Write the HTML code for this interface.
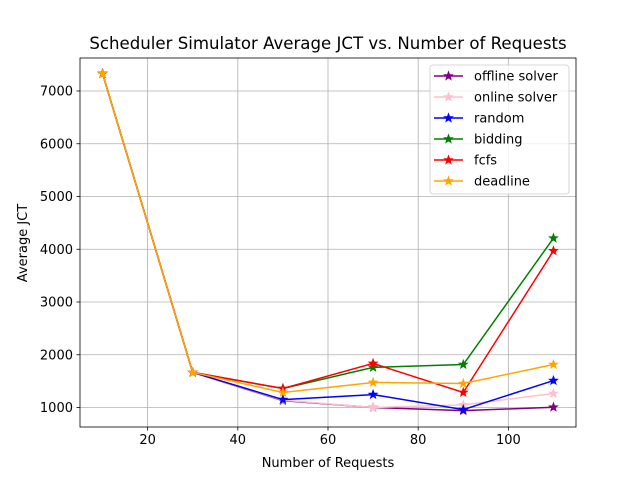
<!DOCTYPE html>
<html><head><meta charset="utf-8"><style>
html,body{margin:0;padding:0;background:#fff;}
svg{display:block;font-family:"DejaVu Sans","Liberation Sans",sans-serif;}
</style></head><body>
<svg id="chart" width="640" height="480"></svg>
<script>
const xValues = [10, 30, 50, 70, 90, 110];
const seriesNames = ["offline solver","online solver","random","bidding","fcfs","deadline"];
const seriesColors = ["purple","pink","blue","green","red","orange"];
const offlineSolver = [7330, 1665, 1130, 1000, 940, 1005];
const onlineSolver = [7330, 1665, 1140, 1000, 1050, 1265];
const randomSched = [7330, 1665, 1150, 1245, 960, 1510];
const bidding = [7330, 1665, 1360, 1760, 1815, 4210];
const fcfs = [7330, 1665, 1360, 1835, 1285, 3970];
const deadline = [7330, 1665, 1285, 1475, 1455, 1815];
const xTicks = [20, 40, 60, 80, 100];
const yTicks = [1000, 2000, 3000, 4000, 5000, 6000, 7000];

const allSeries = [offlineSolver, onlineSolver, randomSched, bidding, fcfs, deadline];
const L=80, R=576, T=58, B=427;
const xMin=5, xMax=115, yRef1=1000, yPx1=407.5, pxPer=0.05275;
function sx(v){ return L + (v - xMin) / (xMax - xMin) * (R - L); }
function sy(v){ return yPx1 - (v - yRef1) * pxPer; }
const NS="http://www.w3.org/2000/svg";
const svg=document.getElementById('chart');
function mk(tag, attrs, parent){ const e=document.createElementNS(NS,tag); for(const k in attrs) e.setAttribute(k, attrs[k]); (parent||svg).appendChild(e); return e; }
function star(cx, cy, r){
  let p=[]; for(let i=0;i<10;i++){ const a=-Math.PI/2+i*Math.PI/5; const rr=i%2?r*0.42:r; p.push((cx+rr*Math.cos(a)).toFixed(2)+","+(cy+rr*Math.sin(a)).toFixed(2)); } return p.join(" ");
}
xTicks.forEach(t=>{
  const g=mk('line',{x1:sx(t),x2:sx(t),y1:T,y2:B,stroke:'#b0b0b0','stroke-width':0.8});
   
  const tk=mk('line',{x1:sx(t),x2:sx(t),y1:B,y2:B+3.5,stroke:'#000','stroke-width':0.8});
   
  const tx=mk('text',{x:sx(t),y:B+17,'font-size':13,'text-anchor':'middle'}); tx.textContent=t;
   
});
yTicks.forEach(t=>{
  const g=mk('line',{x1:L,x2:R,y1:sy(t),y2:sy(t),stroke:'#b0b0b0','stroke-width':0.8});
   
  const tk=mk('line',{x1:L-3.5,x2:L,y1:sy(t),y2:sy(t),stroke:'#000','stroke-width':0.8});
   
  const tx=mk('text',{x:L-7,y:sy(t)+4.5,'font-size':13,'text-anchor':'end'}); tx.textContent=t;
   
});
allSeries.forEach((s,i)=>{
  const grp=mk('g',{});
   
  const pts=s.map((v,j)=>sx(xValues[j])+","+sy(v)).join(" ");
  mk('polyline',{points:pts,fill:'none',stroke:seriesColors[i],'stroke-width':1.5},grp);
  s.forEach((v,j)=>{
    const m=mk('polygon',{points:star(sx(xValues[j]),sy(v),4.5),fill:seriesColors[i],stroke:seriesColors[i],'stroke-width':0.8},grp);
     
  });
});
const fr=mk('rect',{x:L,y:T,width:R-L,height:B-T,fill:'none',stroke:'#000','stroke-width':0.8});
 
const ti=mk('text',{x:(L+R)/2,y:49,'font-size':16.6,'text-anchor':'middle'}); ti.textContent='Scheduler Simulator Average JCT vs. Number of Requests';
 
const xl=mk('text',{x:(L+R)/2,y:467,'font-size':13,'text-anchor':'middle'}); xl.textContent='Number of Requests';
 
const yl=mk('text',{x:0,y:0,'font-size':13,'text-anchor':'middle',transform:'translate(27,243) rotate(-90)'}); yl.textContent='Average JCT';
 
const lg=mk('g',{});
 
mk('rect',{x:430,y:65,width:139,height:129,rx:3,fill:'#fff','fill-opacity':0.8,stroke:'#ccc','stroke-width':0.8},lg);
seriesNames.forEach((n,i)=>{
  const y=76+i*21;
  const e=mk('g',{},lg);
   
  mk('line',{x1:434,x2:463,y1:y,y2:y,stroke:seriesColors[i],'stroke-width':1.5},e);
  mk('polygon',{points:star(448.5,y,4.5),fill:seriesColors[i],stroke:seriesColors[i],'stroke-width':0.8},e);
  const t=mk('text',{x:474,y:y+4.5,'font-size':13},e); t.textContent=n;
});
</script>
</body></html>
